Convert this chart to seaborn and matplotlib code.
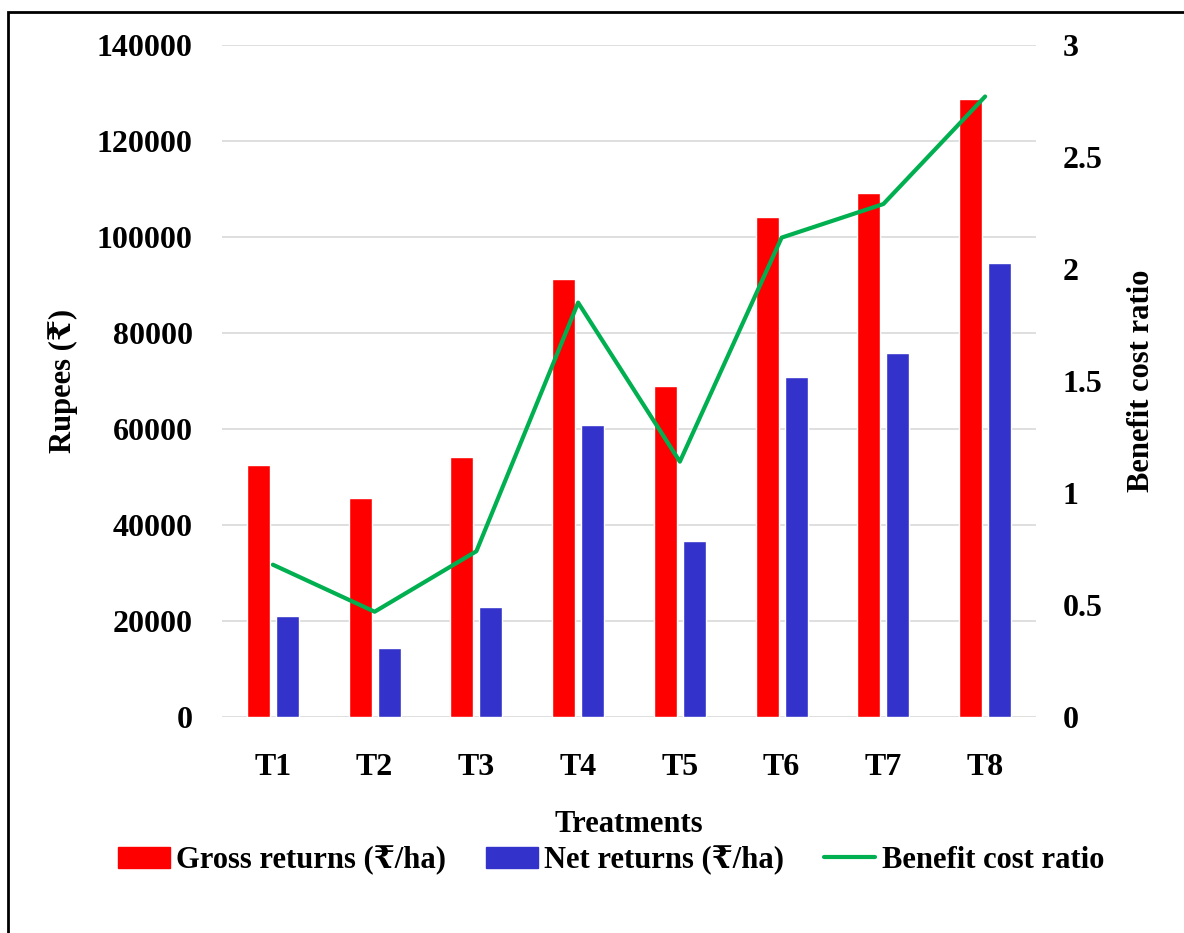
import numpy as np
import pandas as pd
import matplotlib
matplotlib.use("Agg")
import matplotlib.pyplot as plt
import seaborn as sns
from matplotlib.patches import Patch, Rectangle
from matplotlib.lines import Line2D

# data
treatments = ["T1", "T2", "T3", "T4", "T5", "T6", "T7", "T8"]
gross_returns = [52400, 45700, 54200, 91200, 69000, 104200, 109200, 128700]
net_returns = [21100, 14400, 23000, 60800, 36700, 70800, 75800, 94500]
benefit_cost = [0.68, 0.47, 0.74, 1.85, 1.14, 2.14, 2.29, 2.77]

gross_label = "Gross returns (\u20b9/ha)"
net_label = "Net returns (\u20b9/ha)"
bcr_label = "Benefit cost ratio"

df = pd.DataFrame({
    "Treatment": treatments * 2,
    "Value": gross_returns + net_returns,
    "Series": [gross_label] * len(treatments) + [net_label] * len(treatments),
})

sns.set_style("white")
plt.rcParams["font.family"] = ["Liberation Serif", "DejaVu Serif", "DejaVu Sans"]
plt.rcParams["font.weight"] = "bold"
plt.rcParams["text.color"] = "black"
plt.rcParams["axes.labelcolor"] = "black"
plt.rcParams["xtick.color"] = "black"
plt.rcParams["ytick.color"] = "black"

red = "#FF0000"
blue = "#3333CC"
green = "#00B050"

fig = plt.figure(figsize=(11.84, 9.33), dpi=100)
ax = fig.add_axes([0.1875, 0.2315, 0.6875, 0.7203])

sns.barplot(data=df, x="Treatment", y="Value", hue="Series",
            palette=[red, blue], saturation=1, width=0.57, gap=0.2,
            ax=ax, legend=False)
ax.set_ylim(0, 140000)
ax.set_yticks(np.arange(0, 140001, 20000))
ax.yaxis.grid(True, color="#D9D9D9", lw=1.2)
ax.set_axisbelow(True)
for s in ax.spines.values():
    s.set_visible(False)
ax.tick_params(axis="both", length=0, labelsize=23)
ax.tick_params(axis="y", pad=21)
ax.tick_params(axis="x", pad=26)
ax.set_xlabel("Treatments", fontsize=22, fontweight="bold", labelpad=20)
ax.set_ylabel("Rupees (\u20b9)", fontsize=22, fontweight="bold", labelpad=14)
for lab in ax.get_xticklabels() + ax.get_yticklabels():
    lab.set_fontweight("bold")

ax2 = ax.twinx()
sns.lineplot(x=np.arange(len(treatments)), y=benefit_cost, color=green,
             lw=3, ax=ax2)
ax2.set_ylim(0, 3)
ax2.set_yticks([0, 0.5, 1, 1.5, 2, 2.5, 3])
ax2.set_yticklabels(["0", "0.5", "1", "1.5", "2", "2.5", "3"], fontweight="bold")
ax2.tick_params(axis="y", length=0, labelsize=23, pad=19)
ax2.set_ylabel(bcr_label, fontsize=22, fontweight="bold", labelpad=18)
for s in ax2.spines.values():
    s.set_visible(False)
ax2.grid(False)
ax.set_xlim(-0.5, len(treatments) - 0.5)

handles = [Patch(color=red), Patch(color=blue), Line2D([], [], color=green, lw=3)]
fig.legend(handles, [gross_label, net_label, bcr_label], loc="center",
           bbox_to_anchor=(0.516, 0.078), ncol=3, frameon=False,
           prop={"size": 22, "weight": "bold"}, handlelength=1.7,
           handletextpad=0.2, columnspacing=1.3)

# outer frame (right and bottom edges fall outside the image)
fig.add_artist(Rectangle((0.007, -0.02), 1.0, 1.007, transform=fig.transFigure,
                         fill=False, lw=2, color="black"))

fig.savefig("out.png", dpi=100)
